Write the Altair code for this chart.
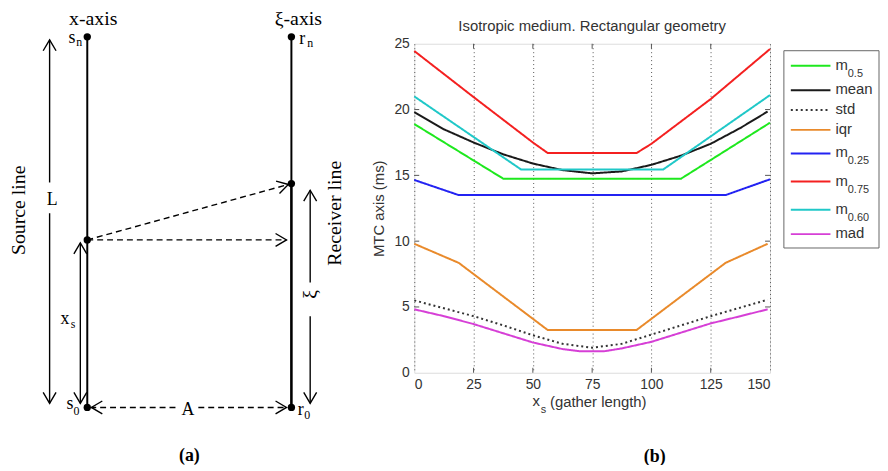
import math
import altair as alt
import pandas as pd

# ------------------------------------------------------------------
# Panel (b): curves
# ------------------------------------------------------------------
SERIES = ["m0.5", "mean", "std", "iqr", "m0.25", "m0.75", "m0.60", "mad"]
LEGEND_MAIN = ["m", "mean", "std", "iqr", "m", "m", "m", "mad"]
LEGEND_SUB = ["0.5", "", "", "", "0.25", "0.75", "0.60", ""]
COLORS = ["#1ee81e", "#1a1a1a", "#333333", "#e98a2b", "#2323f2", "#f42020", "#20c8c8", "#d63fd6"]
DASHES = [[1, 0], [1, 0], [2, 3], [1, 0], [1, 0], [1, 0], [1, 0], [1, 0]]

X_TICKS = [0, 25, 50, 75, 100, 125, 150]
Y_TICKS = [0, 5, 10, 15, 20, 25]

m05_x = [0, 37.5, 112.5, 150]
m05_y = [18.9, 14.75, 14.75, 19.0]
mean_x = [0, 12.5, 25, 37.5, 50, 62.5, 75, 87.5, 100, 112.5, 125, 137.5, 149]
mean_y = [19.8, 18.5, 17.5, 16.6, 15.9, 15.4, 15.15, 15.3, 15.8, 16.5, 17.4, 18.6, 19.85]
std_x = [0, 12.5, 25, 37.5, 50, 62.5, 75, 87.5, 100, 112.5, 125, 137.5, 149]
std_y = [5.5, 4.9, 4.3, 3.6, 2.85, 2.2, 1.9, 2.2, 2.9, 3.6, 4.3, 4.95, 5.55]
iqr_x = [0, 18.75, 56.25, 93.75, 131.25, 149]
iqr_y = [9.8, 8.35, 3.25, 3.25, 8.35, 9.8]
m025_x = [0, 18.75, 131.25, 150]
m025_y = [14.65, 13.5, 13.5, 14.7]
m075_x = [0, 25, 50, 56.25, 93.75, 100, 125, 150]
m075_y = [24.45, 20.95, 17.5, 16.7, 16.7, 17.4, 20.8, 24.6]
m060_x = [0, 45, 105, 150]
m060_y = [21.0, 15.45, 15.45, 21.1]
mad_x = [0, 12.5, 25, 37.5, 50, 62.5, 70, 80, 87.5, 100, 112.5, 125, 137.5, 149]
mad_y = [4.82, 4.3, 3.7, 3.0, 2.3, 1.8, 1.63, 1.63, 1.85, 2.35, 3.05, 3.75, 4.3, 4.82]

CURVES = {
    "m0.5": (m05_x, m05_y), "mean": (mean_x, mean_y), "std": (std_x, std_y),
    "iqr": (iqr_x, iqr_y), "m0.25": (m025_x, m025_y), "m0.75": (m075_x, m075_y),
    "m0.60": (m060_x, m060_y), "mad": (mad_x, mad_y),
}

TITLE_B = "Isotropic medium. Rectangular geometry"
XTITLE_MAIN = ["x"]
XTITLE_SUB = ["s"]
XTITLE_REST = ["(gather length)"]
YTITLE = "MTC axis (ms)"

# ------------------------------------------------------------------
# Panel (a): schematic, in diagram units
# (source line at u=0, receiver line at u=1; s0/r0 at v=0, sn/rn at v=1)
# ------------------------------------------------------------------
X_S = 0.452   # source position
XI = 0.604    # receiver position

node_u = [0, 0, 0, 1, 1, 1]
node_v = [0, X_S, 1, 0, XI, 1]

axis_u1 = [0, 1]
axis_v1 = [0, XI]
axis_u2 = [0, 1]
axis_v2 = [1, 1]
rx_low_u1, rx_low_v1, rx_low_u2, rx_low_v2 = [1], [0], [1], [XI]

# solid arrows: L (two parts), x_s (double), xi (two parts)
arr_u1 = [-0.1845, -0.1845, -0.034, 1.092, 1.092]
arr_v1 = [0.607, 0.524, 0.011, 0.337, 0.246]
arr_u2 = [-0.1845, -0.1845, -0.034, 1.092, 1.092]
arr_v2 = [0.992, 0.011, 0.444, 0.586, 0.011]
arr_both = [False, False, True, False, False]

# dashed arrows: ray, horizontal projection, A (two parts)
dash_u1 = [0, 0, 0.432, 0.544]
dash_v1 = [X_S, X_S, 0, 0]
dash_u2 = [0.985, 0.976, 0.02, 0.976]
dash_v2 = [0.6016, X_S, 0, 0]
dash_both = [False, False, False, False]

head_lab = ["x-axis", "ξ-axis"]
head_u = [0.029, 1.034]
head_v = [1.033, 1.033]

rot_lab = ["Source line", "Receiver line", "ξ"]
rot_u = [-0.335, 1.214, 1.092]
rot_v = [0.532, 0.524, 0.305]

sym_lab = ["L", "A", "x", "s", "r", "s", "r"]
sym_u = [-0.172, 0.493, -0.109, -0.075, 1.053, -0.085, 1.046]
sym_v = [0.560, -0.008, 0.239, 0.996, 0.995, 0.009, -0.007]

sub_lab = ["s", "n", "n", "0", "0"]
sub_u = [-0.070, -0.039, 1.092, -0.053, 1.078]
sub_v = [0.226, 0.985, 0.983, -0.009, -0.020]

cap_lab = ["(a)", "(b)"]
cap_u = [0.5, 2.78]
cap_v = [-0.131, -0.133]

# ------------------------------------------------------------------
# layout helpers
# ------------------------------------------------------------------
W, H = 359, 332
PLOT_X0, PLOT_Y0 = 418, 42


def lin_domain(u0, p0, u1, p1, p_start, p_end):
    k = (p1 - p0) / (u1 - u0)
    return [u0 + (p_start - p0) / k, u0 + (p_end - p0) / k]


KX = 206.0   # px per diagram unit, horizontal
KY = 374.0   # px per diagram unit, vertical
SX = alt.Scale(domain=lin_domain(0, 88 - PLOT_X0, 1, 88 + KX - PLOT_X0, 0, W), nice=False, zero=False)
SY = alt.Scale(domain=lin_domain(0, 409 - PLOT_Y0, 1, 409 - KY - PLOT_Y0, H, 0), nice=False, zero=False)

LXS = alt.Scale(domain=lin_domain(0, 798 - PLOT_X0, 1, 799 - PLOT_X0, 0, W), nice=False, zero=False)
LYS = alt.Scale(domain=lin_domain(0, 64.3 - PLOT_Y0, -1, 65.3 - PLOT_Y0, H, 0), nice=False, zero=False)

XS = alt.Scale(domain=[0, 150], nice=False, zero=False)
YS = alt.Scale(domain=[0, 25], nice=False, zero=False)

SANS = "Liberation Sans"
SERIF = "Liberation Serif"
FRAME = "#555555"

XAX = alt.Axis(values=X_TICKS, title=None, orient="bottom", grid=True, gridDash=[1, 3],
               gridColor="#555555", gridWidth=1, ticks=False, tickSize=0, domain=False,
               labelFontSize=14, labelColor="#333333", labelPadding=5, labelFont=SANS, format="d")
YAX = alt.Axis(values=Y_TICKS, title=YTITLE, orient="left", grid=False, ticks=False, tickSize=0,
               domain=False, labelFontSize=14, labelColor="#333333", labelPadding=5, labelFont=SANS,
               titleFont=SANS, titleFontSize=15, titleFontWeight="normal", titleColor="#333333",
               titlePadding=7, format="d")

# ------------------------------------------------------------------
# panel (b) layers
# ------------------------------------------------------------------
rows = []
for name in SERIES:
    xs, ys = CURVES[name]
    for xv, yv in zip(xs, ys):
        rows.append({"series": name, "x": xv, "y": yv})
curves_df = pd.DataFrame(rows)

color_enc = alt.Color("series:N", scale=alt.Scale(domain=SERIES, range=COLORS), legend=None)
dash_enc = alt.StrokeDash("series:N", scale=alt.Scale(domain=SERIES, range=DASHES), legend=None)

lines = alt.Chart(curves_df).mark_line(strokeWidth=2).encode(
    x=alt.X("x:Q", scale=XS, axis=XAX),
    y=alt.Y("y:Q", scale=YS, axis=YAX),
    color=color_enc,
    strokeDash=dash_enc,
    order=alt.Order("x:Q"),
)

# inward (MATLAB-style) tick marks on all four sides of the box
TICK_LEN_X = 5 / (W / 150)   # 5 px in x data units
TICK_LEN_Y = 5 / (H / 25)    # 5 px in y data units
tick_rows = []
for t in X_TICKS[1:-1]:
    tick_rows.append({"x": t, "y": 0, "x2": t, "y2": TICK_LEN_Y})
    tick_rows.append({"x": t, "y": 25, "x2": t, "y2": 25 - TICK_LEN_Y})
for t in Y_TICKS[1:-1]:
    tick_rows.append({"x": 0, "y": t, "x2": TICK_LEN_X, "y2": t})
    tick_rows.append({"x": 150, "y": t, "x2": 150 - TICK_LEN_X, "y2": t})
ticks_in = alt.Chart(pd.DataFrame(tick_rows)).mark_rule(color=FRAME, strokeWidth=1).encode(
    x=alt.X("x:Q", scale=XS, axis=XAX),
    y=alt.Y("y:Q", scale=YS, axis=YAX),
    x2="x2:Q", y2="y2:Q",
)


def main_text(df, **kw):
    return alt.Chart(df).mark_text(font=SANS, color="#333333", **kw).encode(
        x=alt.X("x:Q", scale=XS, axis=XAX),
        y=alt.Y("y:Q", scale=YS, axis=YAX),
        text="text:N",
    )


title_b = main_text(pd.DataFrame({"x": [75], "y": [25.98], "text": [TITLE_B]}),
                    fontSize=15, baseline="alphabetic", align="center")
xt_main = main_text(pd.DataFrame({"x": [51.4], "y": [-2.18], "text": XTITLE_MAIN}),
                    fontSize=15, baseline="middle", align="center")
xt_sub = main_text(pd.DataFrame({"x": [54.5], "y": [-2.86], "text": XTITLE_SUB}),
                   fontSize=11, baseline="middle", align="center")
xt_rest = main_text(pd.DataFrame({"x": [57.2], "y": [-2.26], "text": XTITLE_REST}),
                    fontSize=15, baseline="middle", align="left")

main = alt.layer(ticks_in, lines, title_b, xt_main, xt_sub, xt_rest)

# ------------------------------------------------------------------
# legend (drawn as marks, to allow subscripts)
# ------------------------------------------------------------------
SUB_ABOVE, SUB_BELOW, PLAIN_HALF = 13.8, 14.6, 10.0
row_pos = []
pos = 0.0
prev_below = 0.0
for i, s in enumerate(LEGEND_SUB):
    above = SUB_ABOVE if s else PLAIN_HALF
    if i > 0:
        pos += prev_below + above
    row_pos.append(-pos)
    prev_below = SUB_BELOW if s else PLAIN_HALF

leg_df = pd.DataFrame({"series": SERIES, "row": row_pos, "main": LEGEND_MAIN, "sub": LEGEND_SUB})

leg_box = alt.Chart(pd.DataFrame({"k": [0]})).mark_rect(
    fill="white", stroke="#666666", strokeWidth=1).encode(
    x=alt.XDatum(-7, scale=LXS, axis=None),
    x2=alt.X2Datum(89),
    y=alt.YDatum(15.3, scale=LYS, axis=None),
    y2=alt.Y2Datum(row_pos[-1] - 14),
)
leg_lines = alt.Chart(leg_df).mark_rule(strokeWidth=2).encode(
    x=alt.XDatum(0, scale=LXS, axis=None),
    x2=alt.X2Datum(40),
    y=alt.Y("row:Q", scale=LYS, axis=None),
    color=color_enc,
    strokeDash=dash_enc,
)
leg_main = alt.Chart(leg_df).mark_text(font=SANS, fontSize=15, color="#333333", align="left",
                                       baseline="middle", dy=-1).encode(
    x=alt.XDatum(45, scale=LXS, axis=None),
    y=alt.Y("row:Q", scale=LYS, axis=None),
    text="main:N",
)
leg_sub = alt.Chart(leg_df).mark_text(font=SANS, fontSize=11, color="#333333", align="left",
                                      baseline="middle", dy=8).encode(
    x=alt.XDatum(57.5, scale=LXS, axis=None),
    y=alt.Y("row:Q", scale=LYS, axis=None),
    text="sub:N",
)
legend = alt.layer(leg_box, leg_lines, leg_main, leg_sub)

# ------------------------------------------------------------------
# panel (a) layers
# ------------------------------------------------------------------
ARROW = "M-1,1.7L0,0L1,1.7"


def seg_df(u1, v1, u2, v2):
    return pd.DataFrame({"u": u1, "v": v1, "u2": u2, "v2": v2})


def heads_df(u1, v1, u2, v2, both):
    out = []
    for a, b, c, d, bt in zip(u1, v1, u2, v2, both):
        ang = math.degrees(math.atan2((c - a) * KX, (d - b) * KY)) % 360
        out.append({"u": c, "v": d, "ang": ang})
        if bt:
            out.append({"u": a, "v": b, "ang": (ang + 180) % 360})
    return pd.DataFrame(out)


def rules(df, **kw):
    return alt.Chart(df).mark_rule(color="black", **kw).encode(
        x=alt.X("u:Q", scale=SX, axis=None),
        y=alt.Y("v:Q", scale=SY, axis=None),
        x2="u2:Q", y2="v2:Q",
    )


def schem_text(lab, u, v, **kw):
    df = pd.DataFrame({"u": u, "v": v, "t": lab})
    return alt.Chart(df).mark_text(color="black", **kw).encode(
        x=alt.X("u:Q", scale=SX, axis=None),
        y=alt.Y("v:Q", scale=SY, axis=None),
        text="t:N",
    )


axes_a = rules(seg_df(axis_u1, axis_v1, axis_u2, axis_v2), strokeWidth=2)
axes_low = rules(seg_df(rx_low_u1, rx_low_v1, rx_low_u2, rx_low_v2), strokeWidth=2.6)
arrows_solid = rules(seg_df(arr_u1, arr_v1, arr_u2, arr_v2), strokeWidth=1.4)
arrows_dash = rules(seg_df(dash_u1, dash_v1, dash_u2, dash_v2), strokeWidth=1.4, strokeDash=[6, 4])

all_heads = pd.concat([heads_df(arr_u1, arr_v1, arr_u2, arr_v2, arr_both),
                       heads_df(dash_u1, dash_v1, dash_u2, dash_v2, dash_both)], ignore_index=True)
heads = alt.Chart(all_heads).mark_point(shape=ARROW, filled=False, size=169, stroke="black",
                                        strokeWidth=1.4, opacity=1).encode(
    x=alt.X("u:Q", scale=SX, axis=None),
    y=alt.Y("v:Q", scale=SY, axis=None),
    angle=alt.Angle("ang:Q", scale=None),
)
nodes = alt.Chart(pd.DataFrame({"u": node_u, "v": node_v})).mark_point(
    shape="circle", filled=True, size=55, color="black", opacity=1).encode(
    x=alt.X("u:Q", scale=SX, axis=None),
    y=alt.Y("v:Q", scale=SY, axis=None),
)

t_head = schem_text(head_lab, head_u, head_v, font=SERIF, fontSize=20, baseline="alphabetic", align="center")
t_rot = schem_text(rot_lab, rot_u, rot_v, font=SERIF, fontSize=20, baseline="middle", align="center", angle=270)
t_sym = schem_text(sym_lab, sym_u, sym_v, font=SERIF, fontSize=18, baseline="middle", align="center")
t_sub = schem_text(sub_lab, sub_u, sub_v, font=SERIF, fontSize=12, baseline="middle", align="center")
t_cap = schem_text(cap_lab, cap_u, cap_v, font=SERIF, fontSize=18, fontWeight="bold",
                   baseline="middle", align="center")

schematic = alt.layer(axes_a, axes_low, arrows_solid, arrows_dash, heads, nodes,
                      t_head, t_rot, t_sym, t_sub, t_cap)

# ------------------------------------------------------------------
chart = alt.layer(main, schematic, legend).resolve_scale(
    x="independent", y="independent"
).properties(
    width=W, height=H,
    autosize=alt.AutoSizeParams(type="none"),
    padding={"left": PLOT_X0 - 8, "top": PLOT_Y0 - 8, "right": 880 - (PLOT_X0 - 8) - W, "bottom": 91},
).configure_view(stroke=FRAME, strokeWidth=1.2).configure(font=SANS)

chart.save("out.html", embed_options={"renderer": "svg", "actions": False})
